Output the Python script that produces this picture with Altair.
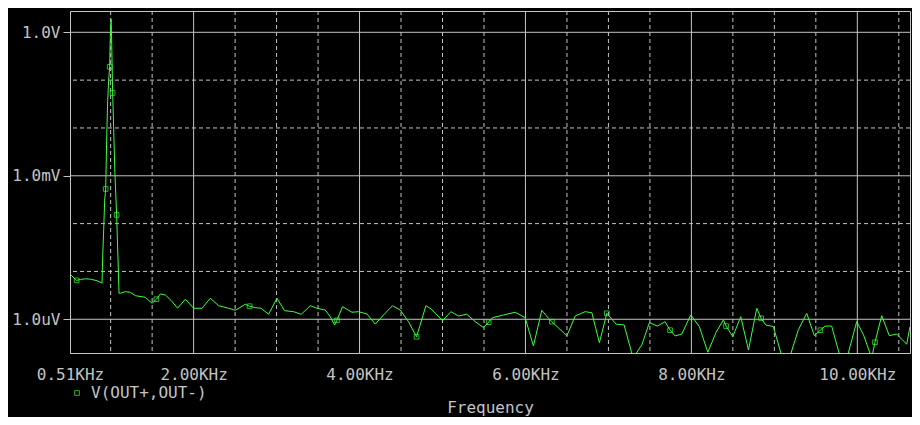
import altair as alt
import pandas as pd

# ---- data (frequency in KHz, magnitude in volts) ----
freq_khz = [0.523, 0.590, 0.635, 0.695, 0.755, 0.836, 0.896, 0.904, 0.916, 0.928,
            0.940, 0.952, 0.964, 0.976, 0.988, 0.996, 1.005, 1.012, 1.024, 1.036,
            1.051, 1.072, 1.084, 1.101, 1.117, 1.177, 1.237, 1.298, 1.418, 1.499,
            1.551, 1.599, 1.659, 1.731, 1.807, 1.900, 2.000, 2.101, 2.201, 2.301,
            2.422, 2.502, 2.623, 2.675, 2.743, 2.812, 2.904, 3.005, 3.096, 3.205,
            3.297, 3.406, 3.487, 3.587, 3.647, 3.699, 3.728, 3.795, 3.908, 3.988,
            4.089, 4.189, 4.289, 4.397, 4.490, 4.590, 4.687, 4.800, 4.864, 5.000,
            5.101, 5.193, 5.294, 5.394, 5.494, 5.557, 5.602, 5.735, 5.876, 5.996,
            6.096, 6.197, 6.277, 6.318, 6.499, 6.599, 6.719, 6.800, 6.891, 6.981,
            7.093, 7.189, 7.297, 7.402, 7.494, 7.590, 7.683, 7.743, 7.804, 7.884,
            7.993, 8.096, 8.198, 8.298, 8.386, 8.418, 8.499, 8.595, 8.688, 8.788,
            8.840, 8.896, 8.988, 9.137, 9.289, 9.390, 9.482, 9.554, 9.611, 9.691,
            9.836, 9.993, 10.075, 10.173, 10.213, 10.294, 10.385, 10.475, 10.595, 10.635]

volts = [8.4e-6, 6.5e-6, 6.8e-6, 7.0e-6, 6.9e-6, 6.4e-6, 5.7e-6, 2.0e-5, 7.4e-5, 3.1e-4,
         5.3e-4, 5.6e-3, 3.7e-2, 0.10, 0.19, 0.88, 1.90, 0.69, 0.054, 0.0105,
         1.15e-3, 1.52e-4, 3.25e-5, 3.5e-6, 3.5e-6, 3.78e-6, 3.67e-6, 3.11e-6, 2.88e-6, 2.16e-6,
         2.62e-6, 3.38e-6, 3.22e-6, 2.45e-6, 1.70e-6, 2.62e-6, 1.70e-6, 1.70e-6, 2.75e-6, 1.92e-6,
         1.70e-6, 1.54e-6, 2.06e-6, 1.87e-6, 1.75e-6, 1.70e-6, 1.27e-6, 2.75e-6, 1.51e-6, 1.44e-6,
         1.27e-6, 1.92e-6, 1.70e-6, 1.56e-6, 1.13e-6, 0.76e-6, 0.95e-6, 1.83e-6, 1.40e-6, 1.44e-6,
         1.29e-6, 0.79e-6, 1.23e-6, 1.92e-6, 1.56e-6, 0.89e-6, 0.43e-6, 1.92e-6, 1.64e-6, 0.935e-6,
         1.44e-6, 1.17e-6, 1.27e-6, 0.89e-6, 0.67e-6, 0.87e-6, 1.08e-6, 1.23e-6, 1.40e-6, 1.08e-6,
         0.277e-6, 1.54e-6, 1.05e-6, 0.89e-6, 0.448e-6, 1.17e-6, 1.44e-6, 1.37e-6, 0.324e-6, 1.33e-6,
         0.79e-6, 0.76e-6, 0.155e-6, 0.29e-6, 0.85e-6, 0.72e-6, 0.89e-6, 0.59e-6, 0.448e-6, 0.49e-6,
         1.23e-6, 0.70e-6, 0.204e-6, 0.535e-6, 0.97e-6, 0.72e-6, 0.433e-6, 1.13e-6, 0.228e-6, 1.70e-6,
         1.05e-6, 0.76e-6, 0.70e-6, 0.087e-6, 0.60e-6, 1.33e-6, 0.454e-6, 0.59e-6, 0.72e-6, 0.72e-6,
         0.087e-6, 0.89e-6, 0.47e-6, 0.155e-6, 0.33e-6, 1.19e-6, 0.454e-6, 0.49e-6, 0.30e-6, 0.70e-6]

# indices (0-based) of the points that carry a square marker
marker_idx = [1, 10, 14, 18, 21, 30, 43, 56, 66, 75, 83, 89, 97, 105, 110, 117, 124]
series_name = "V(OUT+,OUT-)"

x_tick_values = [0.51, 2, 4, 6, 8, 10]
x_major = [2, 4, 6, 8, 10]
x_minor = [1.0, 1.5, 2.5, 3.0, 3.5, 4.5, 5.0, 5.5, 6.5, 7.0, 7.5, 8.5, 9.0, 9.5, 10.5]
y_major = [1.0, 1e-3, 1e-6]
y_major_labels = ["1.0V", "1.0mV", "1.0uV"]
y_minor = [0.1, 0.01, 1e-4, 1e-5]

x_domain = [0.51, 10.635]
y_domain = [1.97e-7, 2.79]

GREEN = "#3cff3c"
GRAY = "#c4c4c4"
FONT = "DejaVu Sans Mono"

df = pd.DataFrame({"f": freq_khz, "v": volts, "i": list(range(len(freq_khz)))})
df["series"] = series_name
mk = df.iloc[marker_idx].copy()

xs = alt.Scale(domain=x_domain, nice=False, zero=False)
ys = alt.Scale(type="log", domain=y_domain, nice=False)

ylab = (f"datum.value > 0.03 ? '{y_major_labels[0]}' : "
        f"(datum.value > 3e-5 ? '{y_major_labels[1]}' : '{y_major_labels[2]}')")

x_axis = alt.Axis(values=x_tick_values, labelExpr="format(datum.value, '.2f') + 'KHz'",
                  title="Frequency", grid=False, ticks=False, labelPadding=13,
                  titlePadding=17, domainColor=GRAY, labelFlush=False)
y_axis = alt.Axis(values=y_major, labelExpr=ylab, title=None, grid=False,
                  tickSize=7, tickColor=GRAY, labelPadding=3, domainColor=GRAY)

xmin = alt.Chart(pd.DataFrame({"f": x_minor})).mark_rule(
    color=GRAY, strokeWidth=1, strokeDash=[4, 3]).encode(x=alt.X("f:Q", scale=xs, axis=x_axis))
xmaj = alt.Chart(pd.DataFrame({"f": x_major})).mark_rule(
    color=GRAY, strokeWidth=1).encode(x=alt.X("f:Q", scale=xs, axis=x_axis))
ymin = alt.Chart(pd.DataFrame({"v": y_minor})).mark_rule(
    color=GRAY, strokeWidth=1, strokeDash=[4, 3]).encode(y=alt.Y("v:Q", scale=ys, axis=y_axis))
ymaj = alt.Chart(pd.DataFrame({"v": y_major})).mark_rule(
    color=GRAY, strokeWidth=1).encode(y=alt.Y("v:Q", scale=ys, axis=y_axis))

line = alt.Chart(df).mark_line(color=GREEN, strokeWidth=1, clip=True).encode(
    x=alt.X("f:Q", scale=xs, axis=x_axis),
    y=alt.Y("v:Q", scale=ys, axis=y_axis),
    order="i:Q",
)

pts = alt.Chart(mk).mark_point(shape="square", filled=False, size=22, strokeWidth=1, clip=True).encode(
    x=alt.X("f:Q", scale=xs, axis=x_axis),
    y=alt.Y("v:Q", scale=ys, axis=y_axis),
    color=alt.Color("series:N", scale=alt.Scale(range=[GREEN]),
                    legend=alt.Legend(orient="none", legendX=-1, legendY=374, title=None,
                                      symbolType="square", symbolSize=22, symbolStrokeWidth=1,
                                      symbolFillColor="black", labelFont=FONT, labelFontSize=16,
                                      labelColor=GRAY, labelOffset=6, padding=0)),
)

chart = alt.layer(xmin, xmaj, ymin, ymaj, line, pts).properties(
    width=840, height=342,
    autosize=alt.AutoSizeParams(type="none"),
    padding={"left": 62, "top": 3, "right": 2, "bottom": 64},
    background="black",
).configure_view(stroke=GRAY, strokeWidth=1).configure_axis(
    labelFont=FONT, labelFontSize=16, labelColor=GRAY,
    titleFont=FONT, titleFontSize=16, titleColor=GRAY, titleFontWeight="normal",
)

chart.save("out.html", embed_options={"renderer": "svg", "actions": False})
